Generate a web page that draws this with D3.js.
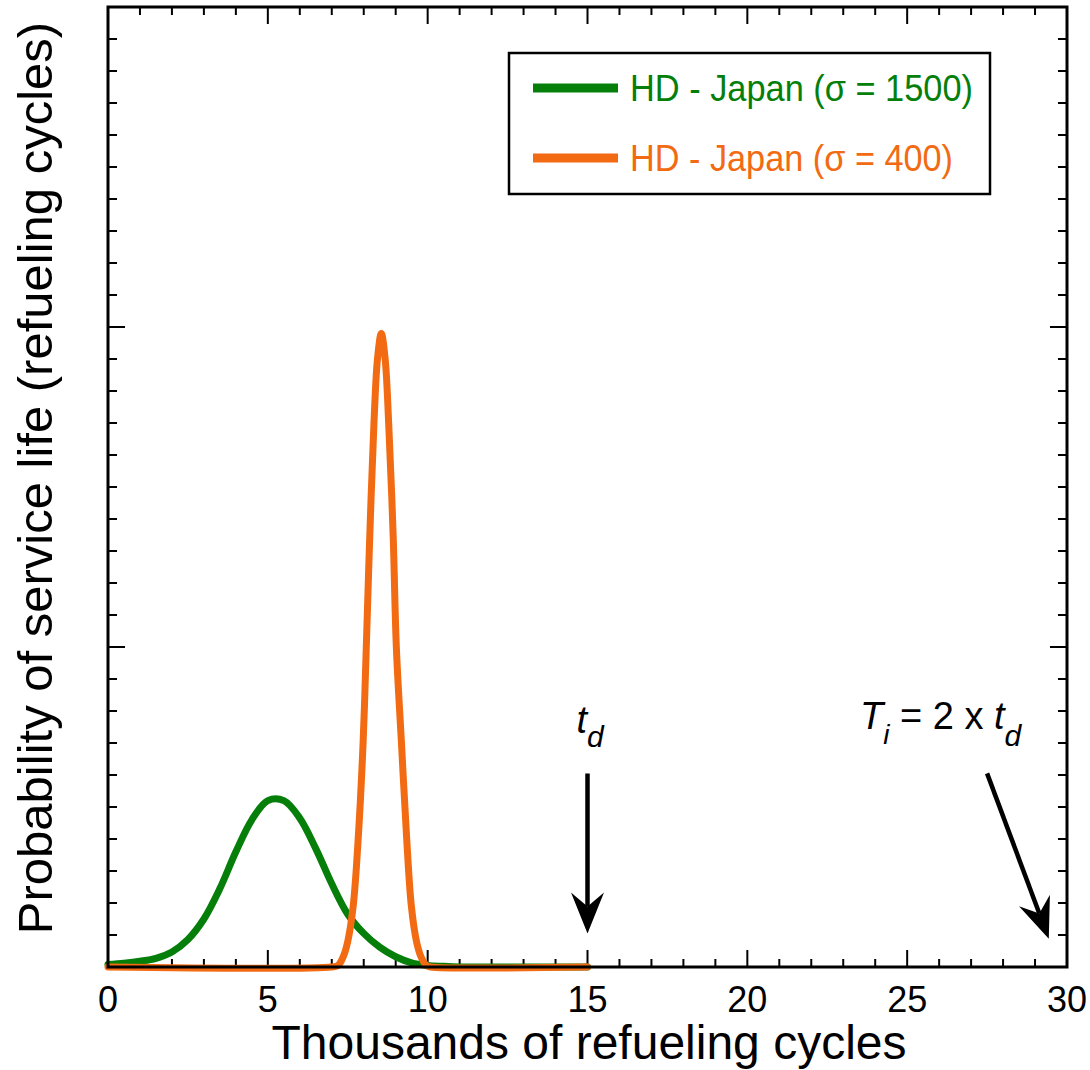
<!DOCTYPE html>
<html>
<head>
<meta charset="utf-8">
<script src="https://cdn.jsdelivr.net/npm/d3@7"></script>
<style>
  body { margin: 0; background: #fff; }
  text { font-family: "Liberation Sans", Arial, Helvetica, sans-serif; }
</style>
</head>
<body>
<div id="chart"></div>
<script>
// thousands of refueling cycles
var greenX = [0, 0.5, 1, 1.5, 2, 2.5, 3, 3.5, 4, 4.5, 5, 5.5, 6, 6.5, 7, 7.5, 8, 8.5, 9, 9.5, 10, 10.5, 11, 11.5, 15];
// probability, in minor-tick units (no labels on the y axis)
var greenY = [0.08, 0.12, 0.18, 0.27, 0.47, 0.86, 1.5, 2.45, 3.6, 4.6, 5.2, 5.2, 4.65, 3.7, 2.6, 1.65, 1.05, 0.62, 0.32, 0.13, 0.05, 0.02, 0, 0, 0];

var orangeX = [0, 7.0, 7.2, 7.35, 7.5, 7.67, 7.82, 7.98, 8.08, 8.19, 8.32, 8.43, 8.55, 8.67, 8.78, 8.92, 9.02, 9.18, 9.35, 9.49, 9.65, 9.8, 9.96, 10.1, 15];
var orangeY = [0, 0, 0.05, 0.3, 0.8, 1.9, 3.9, 7.0, 10.0, 13.5, 17.0, 19.0, 19.8, 19.0, 17.0, 13.5, 10.0, 7.0, 3.9, 1.9, 0.8, 0.3, 0.05, 0, 0];

var seriesNames = ["HD - Japan (\u03c3 = 1500)", "HD - Japan (\u03c3 = 400)"];
var seriesColors = ["#057f0a", "#f26a12"];

var xTickLabels = [0, 5, 10, 15, 20, 25, 30];

// arrows: [x0, y0, x1, y1] in data units
var tdArrow = [15, 6.05, 15, 1.05];
var tiArrow = [27.5, 6.05, 29.43, 0.88];

var width = 1090, height = 1070;
var margin = { top: 7, right: 23, bottom: 103, left: 108 };

var svg = d3.select("#chart")
  .append("svg")
  .attr("width", width)
  .attr("height", height);

var x = d3.scaleLinear().domain([0, 30]).range([margin.left, width - margin.right]);
var y = d3.scaleLinear().domain([0, 30]).range([height - margin.bottom, margin.top]);

var x0 = x(0), x1 = x(30), y0 = y(0), y1 = y(30);

// ticks (inward on all four sides)
var ticks = svg.append("g").attr("stroke", "#000").attr("stroke-width", 2);
d3.range(1, 30).forEach(function(v) {
  var major = v % 5 === 0;
  var lx = major ? 17 : 8;
  ticks.append("line").attr("x1", x(v)).attr("x2", x(v)).attr("y1", y0).attr("y2", y0 - lx);
  ticks.append("line").attr("x1", x(v)).attr("x2", x(v)).attr("y1", y1).attr("y2", y1 + lx);
  var majorY = v % 10 === 0;
  var ly = majorY ? 17 : 9;
  ticks.append("line").attr("y1", y(v)).attr("y2", y(v)).attr("x1", x0).attr("x2", x0 + ly);
  ticks.append("line").attr("y1", y(v)).attr("y2", y(v)).attr("x1", x1).attr("x2", x1 - ly);
});

svg.selectAll(".xlab")
  .data(xTickLabels)
  .join("text")
  .attr("class", "xlab")
  .attr("x", function(d) { return x(d); })
  .attr("y", y0 + 45)
  .attr("text-anchor", "middle")
  .style("font-size", "36px")
  .text(function(d) { return d; });

// curves
var line = d3.line()
  .x(function(d) { return x(d[0]); })
  .y(function(d) { return y(d[1]); })
  .curve(d3.curveCatmullRom.alpha(0.5));

var series = [d3.zip(greenX, greenY), d3.zip(orangeX, orangeY)];

svg.selectAll(".curve")
  .data(series)
  .join("path")
  .attr("class", "curve")
  .attr("d", line)
  .attr("fill", "none")
  .attr("stroke", function(d, i) { return seriesColors[i]; })
  .attr("stroke-width", 7)
  .attr("stroke-linejoin", "round")
  .attr("stroke-linecap", "round");

// frame
svg.append("rect")
  .attr("x", x0).attr("y", y1)
  .attr("width", x1 - x0).attr("height", y0 - y1)
  .attr("fill", "none")
  .attr("stroke", "#000")
  .attr("stroke-width", 3);

// axis titles
svg.append("text")
  .attr("x", 589)
  .attr("y", 1059)
  .attr("text-anchor", "middle")
  .style("font-size", "48px")
  .text("Thousands of refueling cycles");

svg.append("text")
  .attr("transform", "translate(52,478) rotate(-90)")
  .attr("text-anchor", "middle")
  .style("font-size", "49px")
  .text("Probability of service life (refueling cycles)");

// legend
var legend = svg.append("g");
legend.append("rect")
  .attr("x", 509).attr("y", 53)
  .attr("width", 481).attr("height", 141)
  .attr("fill", "#fff")
  .attr("stroke", "#000")
  .attr("stroke-width", 2.5);

seriesNames.forEach(function(name, i) {
  var ly = 88 + i * 70;
  legend.append("line")
    .attr("x1", 533).attr("x2", 618)
    .attr("y1", ly).attr("y2", ly)
    .attr("stroke", seriesColors[i])
    .attr("stroke-width", 9);
  legend.append("text")
    .attr("x", 630)
    .attr("y", ly + 13)
    .attr("fill", seriesColors[i])
    .style("font-size", "37px")
    .attr("textLength", i === 0 ? 343 : 323)
    .attr("lengthAdjust", "spacingAndGlyphs")
    .text(name);
});

// arrows
function arrow(a) {
  var p0 = [x(a[0]), y(a[1])], p1 = [x(a[2]), y(a[3])];
  var dx = p1[0] - p0[0], dy = p1[1] - p0[1];
  var len = Math.sqrt(dx * dx + dy * dy);
  var ux = dx / len, uy = dy / len;
  var nx = -uy, ny = ux;
  var headLen = 41, headW = 16.5, notch = 27;
  var back = [p1[0] - ux * headLen, p1[1] - uy * headLen];
  var mid = [p1[0] - ux * notch, p1[1] - uy * notch];
  svg.append("line")
    .attr("x1", p0[0]).attr("y1", p0[1])
    .attr("x2", mid[0]).attr("y2", mid[1])
    .attr("stroke", "#000").attr("stroke-width", 4.5);
  svg.append("path")
    .attr("d", "M" + p1[0] + "," + p1[1] +
      "L" + (back[0] + nx * headW) + "," + (back[1] + ny * headW) +
      "L" + mid[0] + "," + mid[1] +
      "L" + (back[0] - nx * headW) + "," + (back[1] - ny * headW) + "Z")
    .attr("fill", "#000");
}
arrow(tdArrow);
arrow(tiArrow);

// annotation labels
var td = svg.append("text")
  .attr("x", x(15) - 11)
  .attr("y", 733)
  .style("font-size", "38px")
  .style("font-style", "italic");
td.append("tspan").text("t");
td.append("tspan").attr("dy", 14).style("font-size", "30px").text("d");

var ti = svg.append("text")
  .attr("x", 860)
  .attr("y", 729)
  .style("font-size", "38px");
ti.append("tspan").style("font-style", "italic").text("T");
ti.append("tspan").attr("dy", 15).style("font-size", "28px").style("font-style", "italic").text("i");
ti.append("tspan").attr("dy", -15).text(" = 2 x ");
ti.append("tspan").style("font-style", "italic").text("t");
ti.append("tspan").attr("dy", 17).style("font-size", "30px").style("font-style", "italic").text("d");
</script>
</body>
</html>
